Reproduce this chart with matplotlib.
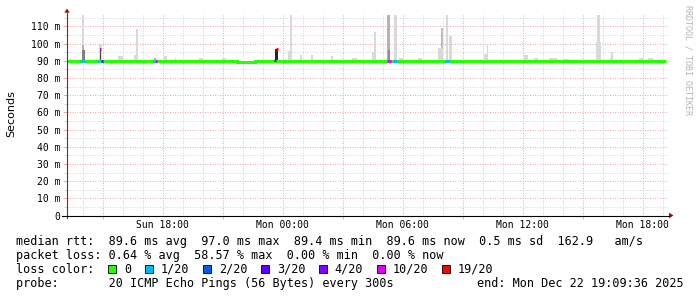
import matplotlib
matplotlib.use('Agg')
import matplotlib.pyplot as plt
from matplotlib.patches import Rectangle, Polygon
from matplotlib.lines import Line2D

W, H = 697, 297
MONO = 'DejaVu Sans Mono'

# time axis in hours since Sun 00:00 (30 h window ending Mon 19:09:36)
t_start, t_end = 13.215, 43.265
step = 5 / 60.0  # 300 s probe step
label_hours = [18, 24, 30, 36, 42]
label_text = ['Sun 18:00', 'Mon 00:00', 'Mon 06:00', 'Mon 12:00', 'Mon 18:00']

# median rtt (ms) as step segments
med_edges = [13.215, 15.0, 16.5, 21.7, 22.6, 27.0, 30.5, 33.0, 36.5, 43.16]
med_vals = [89.7, 89.6, 89.7, 89.5, 89.7, 89.6, 89.7, 89.6, 89.7]

# samples with packet loss: time, lost pings (of 20), median rtt
loss_t = [13.92, 14.07, 14.77, 14.89, 14.96, 17.54, 17.65, 23.61, 23.72,
          29.28, 29.37, 29.57, 29.67, 32.16, 32.25]
loss_n = [1, 1, 1, 10, 3, 1, 10, 4, 19, 10, 10, 1, 1, 1, 1]
loss_v = [89.7, 89.7, 89.7, 97.0, 89.7, 89.7, 89.7, 90.2, 96.9,
          89.6, 89.6, 89.6, 89.6, 89.7, 89.7]

# smoke: time, top of ping spread (ms), samples wide, pings at that level
smoke_t = [13.39, 14.03, 14.03, 14.03, 14.89, 14.89, 15.89, 16.66, 16.73,
           17.60, 18.14, 18.64, 19.92, 21.07, 23.70, 24.40, 24.33, 24.91,
           25.47, 26.47, 27.61, 28.60, 28.55, 29.30, 29.30, 29.65, 29.92,
           30.87, 31.87, 31.96, 32.20, 32.40, 34.17, 34.24, 36.17, 36.66,
           37.52, 38.17, 39.79, 39.79, 40.43, 40.47, 41.92, 42.37, 42.79]
smoke_top = [91.6, 118.0, 99.0, 96.5, 99.7, 97.4, 92.5, 93.5, 108.4,
             91.5, 93.0, 91.6, 91.6, 91.6, 96.8, 118.0, 95.8, 93.5,
             93.5, 93.0, 91.6, 106.7, 94.9, 118.0, 96.4, 118.0, 91.6,
             91.6, 97.4, 109.0, 118.0, 104.5, 94.0, 99.3, 93.5, 91.6,
             91.6, 91.2, 118.0, 101.0, 91.6, 94.9, 91.6, 91.6, 91.2]
smoke_n = [1, 1, 1, 2, 2, 1, 3, 2, 1,
           1, 2, 1, 2, 2, 2, 1, 2, 1,
           1, 1, 3, 1, 2, 2, 1, 2, 2,
           2, 3, 1, 1, 2, 2, 1, 2, 2,
           5, 4, 2, 3, 2, 1, 2, 3, 1]
smoke_p = [1, 1, 4, 8, 1, 12, 1, 1, 1,
           4, 1, 1, 1, 1, 15, 1, 1, 1,
           1, 1, 1, 1, 1, 4, 7, 1, 1,
           1, 1, 3, 1, 1, 1, 1, 1, 1,
           1, 1, 1, 1, 1, 1, 1, 1, 1]

# legend texts
rtt_stats = ['89.6 ms avg', '97.0 ms max', '89.4 ms min', '89.6 ms now', '0.5 ms sd', '162.9   am/s']
loss_stats = ['0.64 % avg', '58.57 % max', '0.00 % min', '0.00 % now']
loss_labels = ['0', '1/20', '2/20', '3/20', '4/20', '10/20', '19/20']
loss_colors = ['#26ff00', '#00b8ff', '#0059ff', '#5e00ff', '#7e00ff', '#dd00ff', '#ff0000']

RED_GRID = '#eeaaaa'
GREY_GRID = '#d6d6d6'


def loss_color(n):
    if n == 0:
        return loss_colors[0]
    if n <= 3:
        return loss_colors[n]
    if n < 10:
        return loss_colors[4]
    if n < 19:
        return loss_colors[5]
    return loss_colors[6]


def fx(px):
    return px / W


def fy(py):
    return 1 - py / H


fig = plt.figure(figsize=(W / 100, H / 100), dpi=100)
fig.patch.set_facecolor('white')
ax = fig.add_axes([fx(67), fy(215.5), 601 / W, 200.8 / H])
ax.set_xlim(t_start, t_end)
ax.set_ylim(0, 116.8)
for s in ax.spines.values():
    s.set_visible(False)

# grid
for h in range(14, 44):
    red = h % 3 == 0
    ax.axvline(h, color=RED_GRID if red else GREY_GRID, lw=0.72, dashes=(1, 1.5), zorder=0)
for v in range(5, 116, 5):
    red = v % 10 == 0
    ax.axhline(v, color=RED_GRID if red else GREY_GRID, lw=0.72, dashes=(1, 1.5), zorder=0)

# smoke, tallest first so denser levels sit on top
order = sorted(range(len(smoke_t)), key=lambda i: -smoke_top[i])
for i in order:
    g = max(0.15, 0.9 - 0.05 * smoke_p[i])
    ax.bar(smoke_t[i], smoke_top[i] - 89.0, width=smoke_n[i] * step, bottom=89.0,
           color=(g, g, g), linewidth=0, zorder=2)

# median line
ax.stairs(med_vals, med_edges, baseline=None, color=loss_colors[0], lw=2.16, zorder=3)
for t, n, v in zip(loss_t, loss_n, loss_v):
    ax.hlines(v, t - step / 2, t + step / 2, color=loss_color(n), lw=2.16,
              capstyle='butt', zorder=4)

# ticks
yt = list(range(0, 111, 10))
ax.set_yticks(yt)
ax.set_yticklabels(['0'] + ['%d m' % v for v in yt[1:]], family=MONO, fontsize=7)
ax.set_yticks(list(range(5, 116, 10)), minor=True)
ax.tick_params(axis='y', which='major', length=3.2, width=0.72, color=RED_GRID, pad=1.8)
ax.tick_params(axis='y', which='minor', length=2.5, width=0.72, color=GREY_GRID)
ax.set_xticks(label_hours)
ax.set_xticklabels(label_text, family=MONO, fontsize=7)
ax.set_xticks([15, 21, 27, 33, 39], minor=True)
ax.tick_params(axis='x', which='major', length=0, pad=3.0)
ax.tick_params(axis='x', which='minor', length=2.2, width=0.72, color=RED_GRID)

# axes with arrows
fig.add_artist(Line2D([fx(67), fx(67)], [fy(218), fy(12.7)], color='#404040', lw=0.8))
fig.add_artist(Line2D([fx(62), fx(669)], [fy(215.5), fy(215.5)], color='#000000', lw=0.8))
fig.add_artist(Polygon([(fx(64.3), fy(12.7)), (fx(69.7), fy(12.7)), (fx(67), fy(8.5))],
                       closed=True, facecolor='#8b1010', edgecolor='none'))
fig.add_artist(Polygon([(fx(669), fy(212.7)), (fx(669), fy(218.3)), (fx(673.5), fy(215.5))],
                       closed=True, facecolor='#8b1010', edgecolor='none'))

fig.text(fx(11), fy(113.5), 'Seconds', rotation=90, ha='center', va='center', fontsize=8)
fig.text(fx(688), fy(60), 'RRDTOOL / TOBI OETIKER', rotation=270, ha='center', va='center',
         family=MONO, fontsize=6, color='#b4b4b4')

# legend block
fs = 8.5
fig.text(fx(16), fy(245), 'median rtt:  ' + '  '.join(rtt_stats), family=MONO, fontsize=fs, va='baseline')
fig.text(fx(16), fy(259), 'packet loss: ' + '  '.join(loss_stats), family=MONO, fontsize=fs, va='baseline')
fig.text(fx(16), fy(273), 'loss color:', family=MONO, fontsize=fs, va='baseline')
cw = 7.12
x = 108.3
for lab, col in zip(loss_labels, loss_colors):
    fig.add_artist(Rectangle((fx(x), fy(273)), 8 / W, 8 / H, facecolor=col,
                             edgecolor='black', lw=0.6))
    fig.text(fx(x + 16), fy(273), lab, family=MONO, fontsize=fs, va='baseline')
    x = x + 16 + len(lab) * cw + 13.5
fig.text(fx(16), fy(287), 'probe:       20 ICMP Echo Pings (56 Bytes) every 300s',
         family=MONO, fontsize=fs, va='baseline')
fig.text(fx(477), fy(287), 'end: Mon Dec 22 19:09:36 2025', family=MONO, fontsize=fs, va='baseline')

fig.savefig('out.png', dpi=100)
